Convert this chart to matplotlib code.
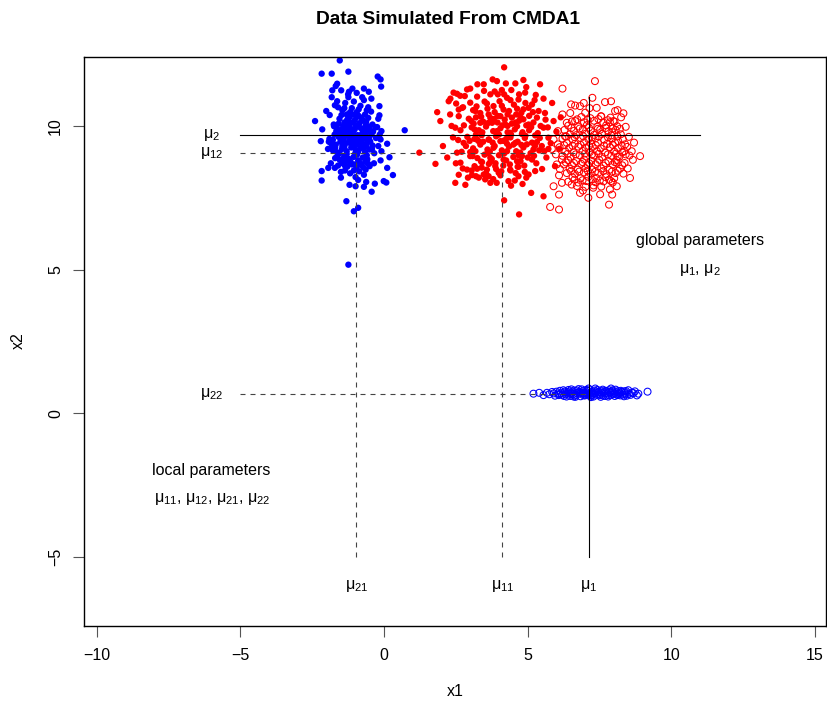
import matplotlib
matplotlib.use("Agg")
import matplotlib.pyplot as plt

plt.rcParams['font.family'] = ['Liberation Sans', 'DejaVu Sans']
plt.rcParams['mathtext.fontset'] = 'custom'
plt.rcParams['mathtext.rm'] = 'Liberation Sans'
plt.rcParams['mathtext.it'] = 'Liberation Sans'
plt.rcParams['mathtext.bf'] = 'Liberation Sans:bold'

# ---------------- data ----------------
title = "Data Simulated From CMDA1"
x_label = "x1"
y_label = "x2"
x_ticks = [-10, -5, 0, 5, 10, 15]
y_ticks = [-5, 0, 5, 10]

# global / local parameters
mu1, mu2 = 7.13, 9.69
mu11, mu12 = 4.11, 9.06
mu21, mu22 = -0.97, 0.67

# cluster 2, variable 1 (blue filled)
blue_filled = [
    (-1.54,12.28),(-2.17,11.82),(-1.82,11.82),(-1.24,11.89),(-0.22,11.72),(-0.12,11.62),
    (-0.10,11.37),(-1.63,11.47),(-1.68,11.39),(-1.80,11.24),(-1.49,11.24),(-1.10,11.30),
    (-1.22,11.19),(-0.70,11.30),(-0.53,11.19),(-1.82,11.00),(-1.24,11.00),(-0.76,11.00),
    (-0.44,10.95),(-1.63,10.86),(-1.71,10.72),(-0.16,10.69),(-2.01,10.52),(-1.89,10.38),
    (-2.40,10.17),(-2.15,9.88),(-1.74,9.99),(-0.16,10.37),(-0.24,9.96),(-0.09,9.82),
    (0.72,9.85),(-2.20,9.47),(-1.92,9.45),(-1.80,9.30),(-0.12,9.53),(0.11,9.38),
    (-0.09,9.12),(0.19,8.91),(-0.12,8.80),(-2.17,8.43),(-1.94,8.54),(-1.71,8.54),
    (-2.17,8.10),(-1.36,8.45),(-0.55,8.68),(-0.64,8.48),(0.11,8.54),(0.31,8.29),
    (-0.01,8.08),(0.08,8.03),(-0.99,8.22),(-0.99,7.90),(-0.70,7.88),(-0.32,7.99),
    (-0.43,7.71),(-1.31,7.38),(-0.90,7.15),(-1.05,7.03),(-1.24,5.17),
    (-1.45,10.55),(-1.30,10.40),(-1.12,10.62),(-0.95,10.48),(-0.82,10.70),(-0.60,10.55),
    (-1.55,10.25),(-1.38,10.12),(-1.20,10.30),(-1.02,10.20),(-0.88,10.35),(-0.72,10.18),
    (-0.55,10.28),(-0.40,10.05),(-1.65,9.95),(-1.48,9.88),(-1.32,9.98),(-1.15,9.90),
    (-0.98,10.02),(-0.80,9.92),(-0.64,10.00),(-0.48,9.85),(-0.30,9.95),(-1.72,9.70),
    (-1.58,9.62),(-1.42,9.75),(-1.26,9.66),(-1.08,9.78),(-0.92,9.68),(-0.76,9.74),
    (-0.60,9.62),(-0.44,9.70),(-0.28,9.58),(-1.85,9.40),(-1.68,9.35),(-1.52,9.45),
    (-1.36,9.38),(-1.20,9.50),(-1.04,9.42),(-0.88,9.48),(-0.72,9.36),(-0.56,9.44),
    (-0.40,9.32),(-1.78,9.15),(-1.62,9.08),(-1.46,9.20),(-1.30,9.12),(-1.14,9.25),
    (-0.98,9.16),(-0.82,9.22),(-0.66,9.10),(-0.50,9.18),(-0.34,9.05),(-1.70,8.88),
    (-1.54,8.82),(-1.38,8.95),(-1.22,8.85),(-1.06,8.92),(-0.90,8.80),(-0.74,8.90),
    (-0.58,8.84),(-1.60,8.62),(-1.44,8.70),(-1.28,8.58),(-1.12,8.66),(-0.96,8.55),
    (-0.80,8.64),(-1.50,8.40),(-1.18,8.35),(-0.86,8.42),(-0.70,8.30),(-1.35,10.80),
    (-1.05,10.85),(-0.70,10.90),(-1.60,10.65),(-0.45,10.50),(-1.75,10.05),(-0.20,10.25),
    (-1.90,9.55),(-0.15,9.70),(-1.95,9.20),(-0.20,9.30),(-0.35,8.70),(-1.85,8.70),
    (-1.40,9.55),(-1.10,9.60),(-0.95,9.35),(-1.25,9.85),(-0.70,9.55),(-1.00,9.05),
    (-1.55,9.05),(-0.85,10.10),(-1.15,10.10),(-0.60,9.80),(-1.45,9.30),(-1.30,8.78),
    (-0.65,8.75),(-1.05,8.45),(-0.55,10.65),(-1.25,11.10),(-0.95,11.15),(-1.50,8.20),
    (-0.90,8.12),(-1.20,7.95),(-0.62,8.05),
    (-1.38,10.62),(-1.18,10.48),(-0.88,10.58),(-0.66,10.40),(-1.48,10.38),(-1.28,10.22),
    (-0.96,10.30),(-0.62,10.14),(-1.58,10.08),(-1.22,10.05),(-0.90,9.98),(-0.52,9.98),
    (-1.66,9.82),(-1.34,9.86),(-1.02,9.88),(-0.68,9.88),(-0.38,9.80),(-1.50,9.68),
    (-1.16,9.70),(-0.84,9.62),(-0.52,9.58),(-1.78,9.52),(-1.46,9.52),(-1.12,9.40),
    (-0.80,9.40),(-0.48,9.46),(-1.70,9.24),(-1.38,9.28),(-1.06,9.30),(-0.74,9.26),
    (-0.42,9.20),(-1.62,8.96),(-1.30,9.02),(-0.94,9.00),(-0.60,8.98),(-1.48,8.78),
    (-1.16,8.74),(-0.84,8.72),(-0.50,8.60),(-1.36,8.62),(-1.02,8.66),(-0.72,8.56),
    (-1.10,10.40),(-0.78,10.28),(-1.42,10.00),(-0.74,9.70),(-1.24,9.42),(-0.90,9.10),
    (-1.40,8.88),(-0.62,9.30),(-1.56,9.76),(-1.00,9.58),
]

# cluster 1, variable 1 (red filled)
red_filled = [
    (3.47,11.45),(2.89,11.27),(2.42,11.16),(2.54,11.12),(2.81,11.04),(3.24,11.02),
    (2.31,10.95),(2.25,10.86),(2.51,10.78),(3.00,10.81),(2.72,10.63),(2.60,10.57),
    (1.85,10.48),(3.18,10.52),(2.60,10.34),(1.96,10.17),(3.04,10.17),(3.35,10.11),
    (2.48,9.94),(2.66,9.85),(3.15,9.88),(3.24,9.53),(2.58,9.51),(2.77,9.41),
    (1.23,9.07),(2.54,9.07),(3.00,9.09),(3.08,8.95),(1.79,8.68),(2.66,8.72),
    (3.41,8.74),(2.74,8.52),(2.89,8.48),(3.24,8.51),(3.06,8.29),(3.20,8.25),
    (3.47,8.31),(2.48,8.02),(2.83,7.95),(3.52,8.14),
    (4.18,12.04),(3.78,11.62),(3.93,11.56),(4.24,11.48),(4.57,11.48),(4.85,11.60),
    (5.43,11.45),(4.10,11.25),(4.43,11.25),(3.70,11.10),(3.96,11.10),(4.91,11.16),
    (4.28,10.98),(4.68,10.92),(5.24,10.90),(5.55,10.95),(5.15,10.75),(3.81,10.69),
    (4.16,10.57),(4.63,10.60),(5.03,10.63),(5.38,10.52),(3.64,10.40),(4.05,10.34),
    (4.45,10.29),(4.85,10.23),(5.32,10.29),(5.90,10.17),(3.76,10.11),(4.22,10.05),
    (4.63,9.99),(5.03,10.05),(5.55,9.94),(3.93,9.82),(4.39,9.76),(4.82,9.78),
    (5.26,9.67),(5.72,9.59),(3.64,9.53),(4.05,9.47),(4.57,9.41),(4.97,9.36),
    (5.49,9.30),(3.81,9.24),(4.28,9.12),(4.74,9.07),(5.20,9.18),(5.72,9.20),
    (3.70,8.89),(4.16,8.83),(4.63,8.77),(5.15,8.83),(3.87,8.60),(4.39,8.48),
    (4.68,8.58),(5.03,8.31),(5.26,8.43),(3.64,8.25),(3.99,8.37),(4.68,8.25),
    (4.33,8.08),(3.70,8.02),(5.12,7.67),(5.55,7.55),(4.18,7.41),(4.70,6.92),
    (3.10,10.55),(3.35,10.45),(3.60,10.60),(3.85,10.48),(4.10,10.70),(4.35,10.52),
    (4.60,10.40),(4.85,10.58),(5.05,10.35),(2.95,10.25),(3.20,10.30),(3.45,10.15),
    (3.70,10.28),(3.95,10.12),(4.20,10.22),(4.45,10.08),(4.70,10.18),(4.95,10.02),
    (5.20,10.12),(3.05,9.95),(3.30,9.85),(3.55,9.98),(3.80,9.82),(4.05,9.92),
    (4.30,9.78),(4.55,9.88),(4.80,9.72),(5.05,9.85),(5.35,9.75),(2.90,9.62),
    (3.15,9.55),(3.40,9.68),(3.65,9.52),(3.90,9.64),(4.15,9.48),(4.40,9.60),
    (4.65,9.45),(4.90,9.58),(5.15,9.42),(2.85,9.30),(3.10,9.22),(3.35,9.35),
    (3.60,9.18),(3.85,9.30),(4.10,9.15),(4.35,9.28),(4.60,9.12),(4.85,9.25),
    (5.10,9.05),(5.40,9.15),(3.00,8.95),(3.25,8.88),(3.50,9.00),(3.75,8.85),
    (4.00,8.98),(4.25,8.80),(4.50,8.92),(4.75,8.78),(5.00,8.90),(5.30,8.70),
    (3.15,8.60),(3.40,8.55),(3.65,8.68),(3.90,8.50),(4.15,8.62),(4.40,8.45),
    (4.65,8.58),(4.90,8.40),(3.30,8.20),(3.80,8.15),(4.05,8.28),(4.55,8.10),
    (4.95,8.20),(3.55,8.35),(2.70,9.10),(2.60,8.30),(2.40,9.60),(2.30,10.40),
    (5.60,10.45),(5.65,8.90),(5.80,9.40),(5.50,8.50),(6.00,9.80),(6.10,9.20),
    (2.20,8.90),(2.05,9.30),(3.50,10.85),(4.40,10.90),(3.00,11.30),(4.70,11.10),
    (3.25,11.45),(3.70,8.75),(4.25,9.55),(3.45,9.45),(4.75,10.30),(3.95,10.35),
    (4.50,9.35),(3.20,9.70),(4.00,9.70),(4.80,8.95),(3.60,9.05),(3.05,8.45),
    (4.30,10.00),(5.25,9.30),(5.45,10.00),(2.75,10.65),(2.50,8.70),(5.70,9.95),
    (3.85,11.20),(4.95,11.35),(5.95,8.60),(6.15,10.30),(2.35,10.00),(5.85,10.80),
    (2.65,11.05),
    (3.22,10.68),(3.58,10.78),(4.02,10.86),(4.52,10.74),(4.92,10.80),(3.38,10.32),
    (3.82,10.24),(4.30,10.40),(4.78,10.46),(5.18,10.48),(3.12,10.08),(3.62,10.10),
    (4.12,10.02),(4.58,10.12),(5.12,9.96),(3.42,9.78),(3.92,9.74),(4.42,9.70),
    (4.92,9.66),(5.42,9.58),(3.28,9.48),(3.78,9.42),(4.28,9.38),(4.78,9.34),
    (5.32,9.44),(3.18,9.12),(3.68,9.10),(4.18,9.04),(4.68,8.98),(5.22,8.96),
    (3.38,8.76),(3.88,8.70),(4.38,8.66),(4.88,8.62),(3.58,8.48),(4.08,8.42),
    (4.58,8.36),(3.92,8.02),(4.42,7.92),(2.98,9.48),(2.78,10.02),(5.58,9.12),
    (5.62,10.22),(3.48,11.22),(4.18,11.10),(5.28,11.08),(2.92,8.20),(4.82,7.98),
]

# cluster 1, variable 2 (red open)
red_open = [
    (7.34,11.56),(6.21,11.30),(7.25,10.98),(7.69,10.83),(7.90,10.86),(6.51,10.75),
    (6.65,10.71),(6.82,10.69),(7.40,10.63),(8.04,10.52),(8.33,10.44),(8.13,10.55),
    (6.21,10.40),(7.00,10.46),(7.55,10.34),(6.36,10.11),(6.65,10.17),(7.86,10.13),
    (7.98,10.17),(8.41,9.97),(8.21,9.90),(7.94,9.78),(6.05,9.82),(6.30,9.64),
    (5.90,9.53),(8.15,9.47),(8.39,9.36),(8.62,9.12),(8.91,8.95),(8.36,9.12),
    (8.13,8.93),(5.84,9.20),(5.98,9.01),(6.19,8.83),(6.01,8.66),(8.10,8.72),
    (8.33,8.34),(8.56,8.19),(6.09,8.28),(6.19,8.02),(6.53,7.96),(5.90,7.90),
    (7.90,8.08),(8.10,7.90),(7.86,7.79),(7.28,7.85),(6.82,7.67),(6.09,7.61),
    (7.11,7.50),(7.94,7.61),(5.78,7.18),(6.09,7.09),(7.83,7.26),
    (6.87,10.31),(7.18,10.27),(7.56,10.33),(7.88,10.29),(6.54,10.16),(6.96,10.13),
    (7.31,10.18),(7.63,10.12),(8.02,10.15),(6.41,10.01),(6.76,9.98),(7.06,10.03),
    (7.42,9.97),(7.73,10.02),(8.11,9.99),(6.28,9.86),(6.61,9.83),(6.92,9.88),
    (7.19,9.84),(7.52,9.87),(7.81,9.82),(8.06,9.86),(6.47,9.71),(6.69,9.68),
    (7.02,9.73),(7.31,9.69),(7.58,9.72),(7.91,9.67),(8.24,9.71),(6.21,9.56),
    (6.56,9.53),(6.84,9.58),(7.11,9.54),(7.36,9.57),(7.66,9.52),(7.94,9.56),
    (8.31,9.54),(6.36,9.41),(6.64,9.38),(6.96,9.43),(7.21,9.39),(7.44,9.42),
    (7.76,9.37),(8.04,9.41),(6.11,9.26),(6.44,9.23),(6.76,9.28),(7.01,9.24),
    (7.26,9.27),(7.54,9.22),(7.86,9.26),(8.14,9.23),(8.46,9.27),(6.31,9.11),
    (6.59,9.08),(6.91,9.13),(7.16,9.09),(7.41,9.12),(7.69,9.07),(8.01,9.11),
    (8.29,9.08),(6.21,8.96),(6.49,8.93),(6.81,8.98),(7.04,8.94),(7.31,8.97),
    (7.59,8.92),(7.91,8.96),(8.19,8.93),(8.54,8.97),(6.41,8.81),(6.69,8.78),
    (6.96,8.83),(7.21,8.79),(7.49,8.82),(7.81,8.77),(8.09,8.81),(6.26,8.66),
    (6.54,8.63),(6.86,8.68),(7.09,8.64),(7.36,8.67),(7.64,8.62),(7.96,8.66),
    (8.29,8.63),(6.46,8.51),(6.74,8.48),(7.01,8.53),(7.24,8.49),(7.56,8.52),
    (7.84,8.47),(8.21,8.51),(6.36,8.36),(6.64,8.33),(6.96,8.38),(7.19,8.34),
    (7.46,8.37),(7.74,8.32),(8.06,8.36),(6.56,8.21),(6.84,8.18),(7.11,8.23),
    (7.39,8.19),(7.71,8.22),(8.01,8.18),(6.41,8.06),(6.76,8.03),(7.04,8.08),
    (7.36,8.04),(7.64,8.07),(7.96,8.03),(6.71,7.91),(7.01,7.88),(7.29,7.93),
    (7.56,7.89),(6.72,10.23),(7.08,10.21),(7.46,10.24),(7.79,10.20),(6.52,9.93),
    (6.81,9.91),(7.13,9.94),(7.44,9.90),(7.71,9.93),(7.96,9.91),(6.34,9.63),
    (6.63,9.61),(6.93,9.64),(7.23,9.60),(7.47,9.63),(7.79,9.61),(8.12,9.64),
    (6.27,9.33),(6.56,9.31),(6.84,9.34),(7.13,9.30),(7.37,9.33),(7.66,9.31),
    (7.96,9.34),(8.27,9.31),(6.39,9.03),(6.67,9.01),(6.99,9.04),(7.23,9.00),
    (7.47,9.03),(7.79,9.01),(8.07,9.04),(8.41,9.01),(6.33,8.73),(6.61,8.71),
    (6.91,8.74),(7.14,8.70),(7.43,8.73),(7.71,8.71),(8.03,8.74),(8.37,8.71),
    (6.51,8.43),(6.79,8.41),(7.09,8.44),(7.34,8.40),(7.63,8.43),(7.93,8.41),
    (8.13,8.44),(6.63,8.13),(6.91,8.11),(7.23,8.14),(7.51,8.10),(7.83,8.13),
    (8.52,9.62),(8.48,8.52),(8.66,8.82),(6.05,9.36),(6.12,8.50),(7.15,10.62),
    (6.95,10.80),(8.25,10.30),(6.48,10.45),(8.70,9.42),(6.92,7.75),(7.52,7.62),
]

# cluster 2, variable 2 (blue open)
blue_open = [
    (9.17,0.75),(8.73,0.76),(8.85,0.68),(8.62,0.72),(5.20,0.68),(5.40,0.71),
    (5.67,0.71),(5.55,0.63),(5.75,0.66),(5.85,0.74),(8.80,0.62),(8.50,0.80),
    (5.95,0.61),(6.05,0.69),(6.12,0.78),(6.20,0.64),(6.28,0.72),(6.35,0.58),
    (6.42,0.81),(6.49,0.67),(6.56,0.75),(6.63,0.62),(6.70,0.70),(6.77,0.84),
    (6.84,0.59),(6.91,0.77),(6.98,0.66),(7.05,0.73),(7.12,0.86),(7.19,0.61),
    (7.26,0.69),(7.33,0.79),(7.40,0.64),(7.47,0.74),(7.54,0.57),(7.61,0.82),
    (7.68,0.68),(7.75,0.76),(7.82,0.63),(7.89,0.71),(7.96,0.80),(8.03,0.60),
    (8.10,0.73),(8.17,0.67),(8.24,0.78),(8.31,0.65),(8.38,0.71),(8.45,0.61),
    (6.00,0.75),(6.08,0.63),(6.16,0.70),(6.24,0.80),(6.32,0.66),(6.40,0.73),
    (6.48,0.60),(6.54,0.70),(6.62,0.79),(6.68,0.64),(6.76,0.72),(6.82,0.68),
    (6.88,0.83),(6.95,0.62),(7.02,0.70),(7.08,0.78),(7.15,0.65),(7.22,0.74),
    (7.29,0.58),(7.36,0.71),(7.43,0.81),(7.50,0.66),(7.57,0.72),(7.64,0.61),
    (7.71,0.78),(7.78,0.69),(7.85,0.74),(7.92,0.64),(7.99,0.71),(8.06,0.82),
    (8.13,0.63),(8.20,0.70),(8.27,0.74),(8.35,0.59),(8.42,0.77),(8.52,0.68),
    (6.10,0.66),(6.26,0.60),(6.38,0.68),(6.52,0.83),(6.66,0.57),(6.80,0.74),
    (6.93,0.70),(7.00,0.62),(7.10,0.68),(7.17,0.80),(7.31,0.67),(7.45,0.69),
    (7.58,0.77),(7.70,0.60),(7.83,0.80),(7.97,0.67),(8.08,0.66),(8.22,0.62),
    (8.36,0.76),(8.58,0.64),(5.90,0.69),(6.30,0.76),(6.58,0.66),(6.72,0.79),
    (6.86,0.71),(7.04,0.81),(7.24,0.63),(7.38,0.75),(7.52,0.63),(7.66,0.73),
    (7.80,0.58),(7.94,0.76),(8.15,0.77),(8.40,0.66),(8.68,0.70),(6.45,0.76),
    (7.35,0.86),(6.60,0.58),(7.90,0.86),(7.20,0.56),
]

# ---------------- figure ----------------
W, H = 827, 705
fig = plt.figure(figsize=(W / 100, H / 100), dpi=100)
ax_l, ax_r, ax_t, ax_b = 84, 826, 57, 625.5
ax = fig.add_axes([ax_l / W, 1 - ax_b / H, (ax_r - ax_l) / W, (ax_b - ax_t) / H])

ax.scatter([p[0] for p in blue_filled], [p[1] for p in blue_filled], s=21,
           color='#0000FF', edgecolors='none', zorder=2)
ax.scatter([p[0] for p in red_filled], [p[1] for p in red_filled], s=21,
           color='#FF0000', edgecolors='none', zorder=2)
ax.scatter([p[0] for p in red_open], [p[1] for p in red_open], s=25,
           facecolors='none', edgecolors='#FF0000', linewidths=0.75, zorder=2)
ax.scatter([p[0] for p in blue_open], [p[1] for p in blue_open], s=25,
           facecolors='none', edgecolors='#0000FF', linewidths=0.75, zorder=2)

dash = (0, (4.5, 4.5))
line_kw = dict(color='black', lw=0.8, zorder=3)
dash_kw = dict(color='#444444', lw=0.8, ls=dash, zorder=3)
# global parameters (solid)
ax.plot([-5, 11], [mu2, mu2], **line_kw)
ax.plot([mu1, mu1], [-5, 11], **line_kw)
# local parameters (dashed)
ax.plot([-5, mu1], [mu12, mu12], **dash_kw)
ax.plot([-5, mu1], [mu22, mu22], **dash_kw)
ax.plot([mu11, mu11], [-5, mu12], **dash_kw)
ax.plot([mu21, mu21], [-5, mu12], **dash_kw)

fs = 11.5
ax.text(-6, mu2, r'$\mu_{2}$', ha='center', va='center', fontsize=fs)
ax.text(-6, mu12, r'$\mu_{12}$', ha='center', va='center', fontsize=fs)
ax.text(-6, mu22, r'$\mu_{22}$', ha='center', va='center', fontsize=fs)
ax.text(mu21, -6, r'$\mu_{21}$', ha='center', va='center', fontsize=fs)
ax.text(mu11, -6, r'$\mu_{11}$', ha='center', va='center', fontsize=fs)
ax.text(mu1, -6, r'$\mu_{1}$', ha='center', va='center', fontsize=fs)
ax.text(11, 6, 'global parameters', ha='center', va='center', fontsize=fs)
ax.text(11, 5, r'$\mu_{1}$, $\mu_{2}$', ha='center', va='center', fontsize=fs)
ax.text(-6, -2, 'local parameters', ha='center', va='center', fontsize=fs)
ax.text(-6, -3, r'$\mu_{11}$, $\mu_{12}$, $\mu_{21}$, $\mu_{22}$',
        ha='center', va='center', fontsize=fs)

ax.set_xlim(-10.44, 15.38)
ax.set_ylim(-7.39, 12.40)
ax.set_xticks(x_ticks)
ax.set_xticklabels(['\u221210', '\u22125', '0', '5', '10', '15'])
ax.set_yticks(y_ticks)
ax.set_yticklabels(['\u22125', '0', '5', '10'], rotation=90, va='center')
ax.tick_params(axis='both', length=8, width=0.8, color='#555555', labelsize=fs)
ax.tick_params(axis='x', pad=8)
ax.tick_params(axis='y', pad=7)
for sp in ax.spines.values():
    sp.set_linewidth(1.0)
    sp.set_color('black')

fig.text((ax_l + ax_r) / 2 / W, 1 - 692 / H, x_label, ha='center', va='center', fontsize=fs)
fig.text(18 / W, 1 - 341 / H, y_label, ha='center', va='center', rotation=90, fontsize=fs)
fig.text(448 / W, 1 - 19 / H, title, ha='center', va='center',
         fontsize=13.8, fontweight='bold')

fig.savefig('out.png', dpi=100)
